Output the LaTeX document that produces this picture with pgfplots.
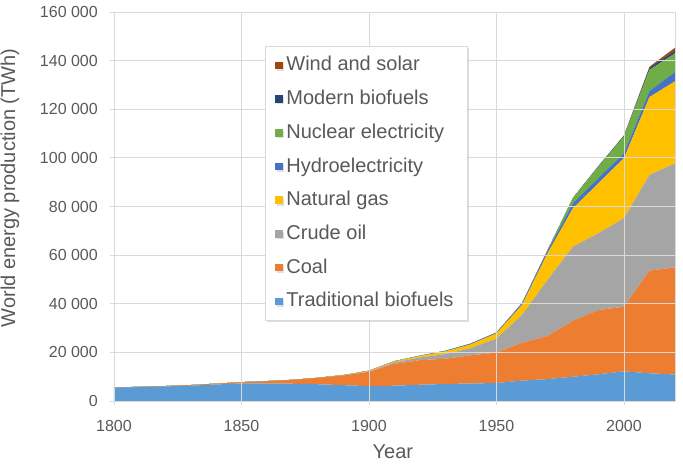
\documentclass[border=0pt]{standalone}
\usepackage{fontspec}
\setmainfont{Liberation Sans}
\usepackage{pgfplots}
\usepackage{pgfplotstable}
\pgfplotsset{compat=1.18}
\usetikzlibrary{shadows}
\definecolor{cT}{HTML}{5B9BD5}
\definecolor{cC}{HTML}{ED7D31}
\definecolor{cO}{HTML}{A5A5A5}
\definecolor{cG}{HTML}{FFC000}
\definecolor{cH}{HTML}{4472C4}
\definecolor{cN}{HTML}{70AD47}
\definecolor{cM}{HTML}{264478}
\definecolor{cW}{HTML}{9E480E}
\definecolor{txt}{HTML}{595959}
\definecolor{grd}{HTML}{D9D9D9}
\pgfplotstableread{
year T C O G H N M W
1800 5500 100 0 0 0 0 0 0
1810 5700 130 0 0 0 0 0 0
1820 6000 150 0 0 0 0 0 0
1830 6300 260 0 0 0 0 0 0
1840 6800 350 0 0 0 0 0 0
1850 7200 550 0 0 0 0 0 0
1860 7200 1000 0 0 0 0 0 0
1870 7100 1600 10 0 0 0 0 0
1880 6900 2600 30 30 0 0 0 0
1890 6500 4000 90 80 10 0 0 0
1900 6100 5900 200 200 50 0 0 0
1910 6300 9000 600 400 100 0 0 0
1920 6700 10100 1100 600 150 0 0 0
1930 7000 10400 1900 1100 250 0 0 0
1940 7200 11600 3000 1500 350 0 0 0
1950 7400 12500 5800 2100 350 0 0 0
1960 8400 15500 11500 4100 700 10 0 0
1970 9000 17700 23100 10900 1100 200 0 0
1980 10000 23000 30500 15800 2000 2200 100 0
1990 11000 26400 31600 20600 2100 4700 250 20
2000 12200 26600 36400 24700 2000 6900 350 100
2010 11400 42200 39400 32000 2500 8700 800 500
2020 10900 44100 42700 33800 3800 7700 1000 1300
}\energy
\begin{document}
\begin{tikzpicture}
\useasboundingbox (-114bp,-67bp) rectangle (569bp,401bp);
\begin{axis}[
  at={(0,0)}, anchor=south west,
  scale only axis,
  width=561bp, height=389bp,
  xmin=1800, xmax=2020,
  ymin=0, ymax=160000,
  xtick={1800,1850,1900,1950,2000},
  xticklabels={1800,1850,1900,1950,2000},
  ytick={0,20000,40000,60000,80000,100000,120000,140000,160000},
  yticklabels={0,20 000,40 000,60 000,80 000,100 000,120 000,140 000,160 000},
  grid=major,
  major grid style={draw=grd, line width=0.8bp},
  axis line style={draw=grd, line width=0.8bp},
  tick style={draw=grd, line width=0.8bp},
  major tick length=4bp,
  tick align=outside,
  xtick pos=bottom, ytick pos=left,
  scaled y ticks=false,
  ticklabel style={font=\fontsize{16bp}{19bp}\selectfont, text=txt},
  xticklabel style={anchor=center, yshift=-21bp, text height=11.5bp, text depth=0pt, inner sep=0pt},
  yticklabel style={anchor=east, xshift=-12bp, inner sep=0pt},
  xlabel={Year},
  ylabel={World energy production (TWh)},
  label style={font=\fontsize{20bp}{23bp}\selectfont, text=txt},
  xlabel style={at={(axis description cs:0.497,-0.131)}, anchor=center},
  ylabel style={at={(axis description cs:-0.1854,0.548)}, anchor=center},
  stack plots=y,
  area style,
  every axis plot/.append style={draw=none},
  reverse legend,
  legend cell align=left,
  legend image code/.code={\fill[#1] (0bp,-3.8bp) rectangle (7.6bp,3.8bp);},
  legend style={at={(0.269,0.9126)}, anchor=north west,
    draw=grd, fill=white, line width=0.8bp,
    drop shadow={shadow xshift=1.5bp, shadow yshift=-1.5bp, opacity=0.25},
    font=\fontsize{20bp}{24bp}\selectfont, text=txt,
    inner xsep=10bp, inner ysep=8bp, row sep=11.7bp,
    nodes={text height=15bp, text depth=4bp, inner ysep=1.5bp, inner xsep=3.5bp}},
]
\addplot[fill=cT] table[x=year,y=T]{\energy} \closedcycle;
\addlegendentry{Traditional biofuels}
\addplot[fill=cC] table[x=year,y=C]{\energy} \closedcycle;
\addlegendentry{Coal}
\addplot[fill=cO] table[x=year,y=O]{\energy} \closedcycle;
\addlegendentry{Crude oil}
\addplot[fill=cG] table[x=year,y=G]{\energy} \closedcycle;
\addlegendentry{Natural gas}
\addplot[fill=cH] table[x=year,y=H]{\energy} \closedcycle;
\addlegendentry{Hydroelectricity}
\addplot[fill=cN] table[x=year,y=N]{\energy} \closedcycle;
\addlegendentry{Nuclear electricity}
\addplot[fill=cM] table[x=year,y=M]{\energy} \closedcycle;
\addlegendentry{Modern biofuels}
\addplot[fill=cW] table[x=year,y=W]{\energy} \closedcycle;
\addlegendentry{Wind and solar}
\end{axis}
\end{tikzpicture}
\end{document}
